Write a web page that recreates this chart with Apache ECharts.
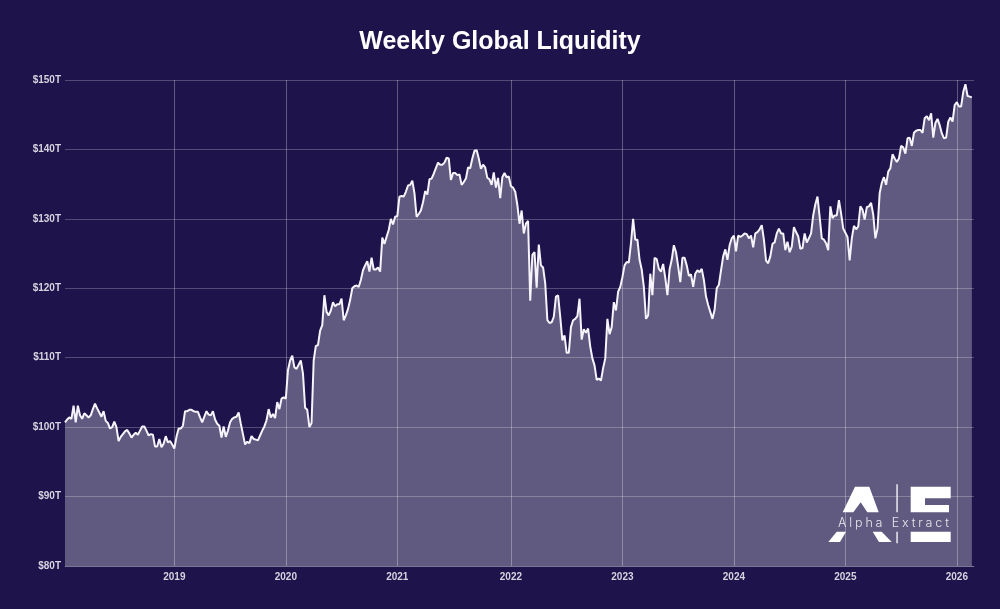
<!DOCTYPE html>
<html>
<head>
<meta charset="utf-8">
<title>Weekly Global Liquidity</title>
<script src="https://cdn.jsdelivr.net/npm/echarts@6/dist/echarts.min.js"></script>
<style>
	html,body{margin:0;padding:0;background:#1e134a;}
	#chart{position:absolute;left:0;top:0;width:1000px;height:609px;}
	#brand{position:absolute;left:838px;top:515px;font:300 12.5px Inter,sans-serif;letter-spacing:2.85px;color:rgba(255,255,255,0.85);white-space:nowrap;}
</style>
</head>
<body>
<div id="chart"></div>
<div id="brand">Alpha Extract</div>
<script>
const title = "Weekly Global Liquidity";
const firstWeek = "2018-01-12";

// weekly readings in $ trillions, one list per calendar year
const y2018 = [100.7,101.1,101.4,101.2,103.1,100.7,103.1,101.7,101.2,102,101.7,101.4,101.7,102.6,103.4,102.7,102.1,101.5,102.3,100.9,100.6,99.8,100,100.8,100,98,98.6,99,99.4,99.6,99.1,98.5,98.9,99.2,98.9,99.5,100.1,100.1,99.5,98.8,99,98.9,97.2,97.2,98.3,97.1,97.6,98.7,97.8,98,97.5];
const y2019 = [96.9,98.6,99.8,99.8,100.2,102.3,102.3,102.5,102.5,102.3,102.2,102.2,101.4,100.7,101.5,102.3,101.8,101.7,102.3,101.1,100.5,100.2,98.5,100.1,98.6,99.5,100.7,101.2,101.4,101.5,102.1,100.5,99,97.5,97.9,97.7,98.7,98.3,98.2,98.1,98.8,99.5,100.1,101,102.6,101.4,101.9,101.3,103.6,102.6,104.1,104.3];
const y2020 = [104.1,108.2,109.6,110.3,108.6,108.4,109,109.6,107.7,102.8,102.5,100,100.6,109.6,111.7,111.8,113.9,114.7,119,116.6,116.1,116.8,118,117.4,117.7,117.7,118.5,115.4,116.1,117,118.3,120,120.3,120.4,120.2,121.2,122.6,123.3,123.9,122.4,124.4,122.7,122.7,123,122.4,127.3,126.4,127.4,128.4,130,129.2,130.3];
const y2021 = [130.4,133.2,133.3,133.2,133.9,134.8,134.9,135.5,133.7,130.3,130.7,131.2,132.4,134,133.5,135.7,135.8,136.5,137.3,138.1,137.8,137.8,138.1,138.8,138.7,135.6,136.6,136.6,136.3,136.4,134.9,135.3,135.8,137.4,137.3,138.7,139.8,139.9,138.7,137.2,137.8,137.4,135.9,135.7,134.9,136.7,134.5,135.9,133,136,136.6,136,136.1];
const y2022 = [134.7,134.5,133.9,132,129.3,131.2,127.9,129.3,129.7,118.2,124.8,125.2,120.1,126.3,123.3,123,120.7,115.4,115,115.1,115.9,118.8,119,115.9,112.5,113.2,110.7,110.7,114.4,115.4,115.6,116,118.5,112.6,114.1,113.6,114.2,111.6,109.9,108.9,106.8,107,106.7,108.5,109.9,115.6,113.4,114.4,118,116.8,119.5,120.2];
const y2023 = [121.6,123.3,123.8,123.7,126.5,130,127,127,124.1,122.7,120.2,115.6,116.1,122.1,119,124.4,124.2,122.8,122.4,123.5,121.5,119,122.7,124.1,126.2,125.2,123.2,120.9,124.4,124.4,123.3,121.8,122,120.2,122.1,122.6,122.3,122.8,121.2,118.8,117.6,116.6,115.6,116.9,120,120.5,122.6,124.6,125.6,124.1,126.2,127.2];
const y2024 = [127.6,125.3,127.6,127.4,127.6,127.9,127.8,127.2,127.6,125.9,127.9,128.1,128.5,129.1,127,124,123.6,124.6,126.4,126.6,127.9,128.6,127.9,127.9,125.5,126.7,125.2,126,128.8,128.1,127.5,125.7,125.8,127.9,126.6,127.2,127.9,130.5,132.1,133.2,130.3,127.2,127,126.5,125.5,131.8,130.1,130.5,130.5,132.7,130.8,128.6];
const y2025 = [128,127.4,124,127.2,129,128.5,128.9,131.8,131.3,129.9,131.7,131.8,132.3,130.6,127.2,128.6,133.7,135.2,136,134.9,136.8,137.3,139.3,138.7,138.2,138.7,140.5,140.3,139.4,141.6,141.7,140.5,142.4,142.7,142.8,142.8,142.4,144.5,144.8,144.2,145.2,141.7,143.8,144.4,143.5,142.3,141.6,141.7,144,144.6,144,146.4];
const y2026 = [146.8,146.2,146.2,148.3,149.4,147.7,147.6,147.5];
const liquidity = [].concat(y2018,y2019,y2020,y2021,y2022,y2023,y2024,y2025,y2026);

const yTicks = [80,90,100,110,120,130,140,150];

// one spare week at the end, the grid runs slightly past the last reading
const weeks = [];
for(let i = 0; i <= liquidity.length; i++){
	let d = new Date(firstWeek + "T00:00:00Z");
	d.setUTCDate(d.getUTCDate() + i*7);
	weeks.push(d.toISOString().slice(0,10));
}
function isYearStart(index){
	return index > 0 && weeks[index].slice(0,4) !== weeks[index-1].slice(0,4);
}

const gridColor = 'rgba(255,255,255,0.24)';
const labelColor = '#d6d3e0';

let myChart = echarts.init(document.getElementById('chart'));
let option = {
	backgroundColor: '#1e134a',
	animation: false,
	title: {
		text: title,
		left: 'center',
		top: 25,
		textStyle: {
			color: '#fff',
			fontFamily: 'Liberation Sans',
			fontWeight: 'bold',
			fontSize: 25
		}
	},
	grid: {
		left: 65,
		right: 26,
		top: 80,
		bottom: 43
	},
	xAxis: {
		type: 'category',
		data: weeks,
		boundaryGap: false,
		axisLine: {
			lineStyle: {
				color: gridColor
			}
		},
		axisTick: {
			show: false
		},
		axisLabel: {
			interval: isYearStart,
			formatter: function(v){
				return v.slice(0,4);
			},
			color: labelColor,
			fontFamily: 'Liberation Sans',
			fontWeight: 'bold',
			fontSize: 10,
			margin: 6
		},
		splitLine: {
			show: true,
			interval: isYearStart,
			lineStyle: {
				color: 'rgba(255,255,255,0.3)'
			}
		}
	},
	yAxis: {
		type: 'value',
		min: yTicks[0],
		max: yTicks[yTicks.length-1],
		interval: 10,
		axisLine: {
			show: false
		},
		axisTick: {
			show: false
		},
		axisLabel: {
			formatter: '${value}T',
			color: labelColor,
			fontFamily: 'Liberation Sans',
			fontWeight: 'bold',
			fontSize: 10,
			margin: 4
		},
		splitLine: {
			lineStyle: {
				color: gridColor
			}
		}
	},
	series: [
		{
			name: title,
			type: 'line',
			data: liquidity,
			showSymbol: false,
			smooth: false,
			lineStyle: {
				width: 2,
				color: '#f6f4fa'
			},
			areaStyle: {
				color: 'rgba(255,255,255,0.3)',
				opacity: 1
			}
		}
	],
	graphic: {
		elements: [
			{type:'polygon', z:20, shape:{points:[[842.7,512.3],[855,486.7],[869.3,486.7],[878.7,512.3],[867.3,512.3],[860.7,502.3],[853.3,512.3]]}, style:{fill:'#fff'}},
			{type:'polygon', z:20, shape:{points:[[828.3,542],[836.7,531.7],[846,531.7],[840,542]]}, style:{fill:'#fff'}},
			{type:'polygon', z:20, shape:{points:[[872.7,531.7],[881.7,531.7],[891.7,542],[879,542]]}, style:{fill:'#fff'}},
			{type:'rect', z:20, shape:{x:896.4,y:484.3,width:1.3,height:28}, style:{fill:'#fff'}},
			{type:'rect', z:20, shape:{x:896.4,y:531.7,width:1.3,height:11.6}, style:{fill:'#fff'}},
			{type:'polygon', z:20, shape:{points:[[910.7,486.7],[950.7,486.7],[950.7,498.3],[925,498.3],[925,505],[949,505],[949,512.3],[910.7,512.3]]}, style:{fill:'#fff'}},
			{type:'rect', z:20, shape:{x:910.7,y:531.7,width:40,height:10.3}, style:{fill:'#fff'}}
		]
	}
};
myChart.setOption(option);
</script>
</body>
</html>
